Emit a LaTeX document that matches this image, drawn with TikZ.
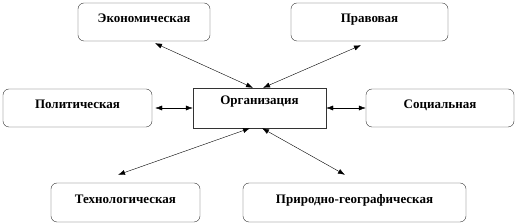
\documentclass[tikz,border=0pt]{standalone}
\usepackage{fontspec}
\setmainfont{Liberation Serif}
\usetikzlibrary{arrows.meta, positioning}

\begin{document}
\begin{tikzpicture}[
    x=1pt, y=1pt,
    box/.style={rectangle, draw=black!80, fill=white, rounded corners=6pt, minimum height=38pt, font=\fontsize{13}{15}\selectfont\bfseries, inner sep=0pt, text height=9pt, text depth=7pt},
    center/.style={box, rounded corners=0pt, minimum height=40pt, text depth=15pt},
    arrow/.style={thin, {Latex[length=7pt,width=5pt]}-{Latex[length=7pt,width=5pt]}}
]
\useasboundingbox (0,0) rectangle (517,224);

\node (org) [center, minimum width=133pt] at (259.5,116) {Организация};
\node (econ) [box, minimum width=132pt] at (144,202) {Экономическая};
\node (prav) [box, minimum width=157pt] at (369.5,202) {Правовая};
\node (polit) [box, minimum width=149pt] at (77.5,116) {Политическая};
\node (soc) [box, minimum width=148pt] at (440,116) {Социальная};
\node (tech) [box, minimum width=149pt, minimum height=39pt] at (125.5,21.5) {Технологическая};
\node (prir) [box, minimum width=223pt, minimum height=39pt] at (354.5,21.5) {Природно-географическая};

\draw [arrow] ([xshift=11pt,yshift=-2pt]econ.south) -- ([xshift=-6.5pt]org.north);
\draw [arrow] ([xshift=-8.5pt,yshift=-4pt]prav.south) -- ([xshift=3.5pt]org.north);
\draw [arrow] ([xshift=3pt]polit.east) -- (org.west);
\draw [arrow] (org.east) -- (soc.west);
\draw [arrow] ([xshift=-7.5pt,yshift=8pt]tech.north) -- ([xshift=-9.5pt]org.south);
\draw [arrow] ([xshift=-9.5pt,yshift=8pt]prir.north) -- ([xshift=2.5pt]org.south);

\end{tikzpicture}
\end{document}
